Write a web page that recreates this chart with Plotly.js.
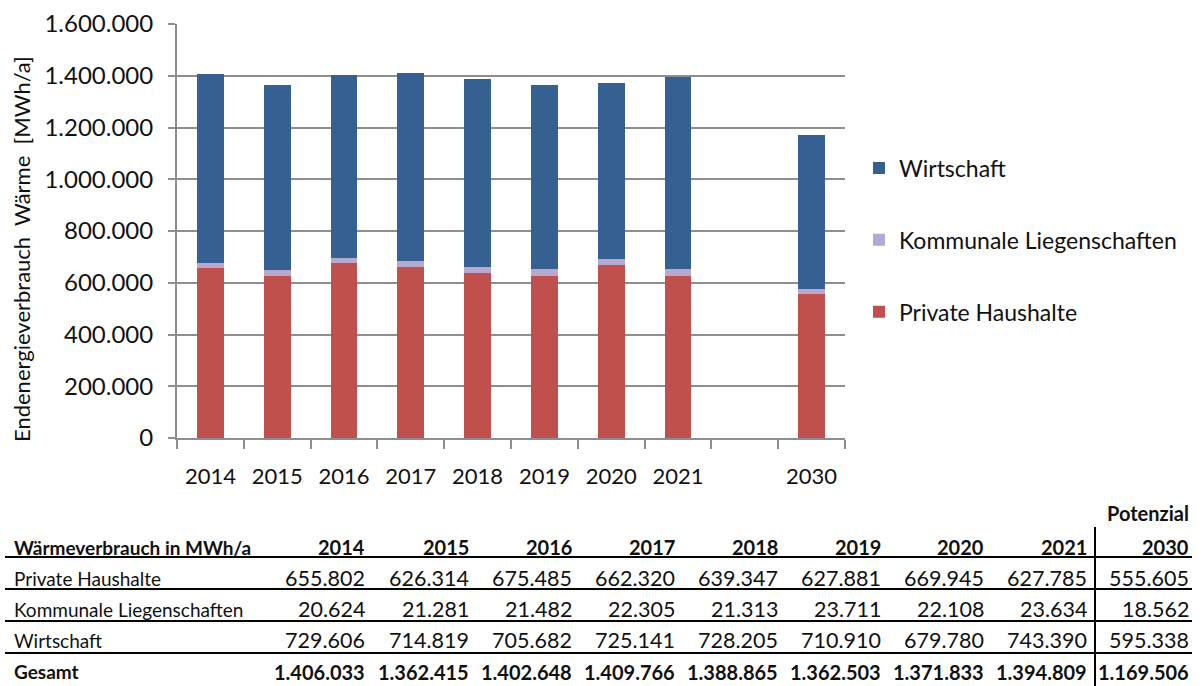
<!DOCTYPE html>
<html><head><meta charset="utf-8">
<script src="https://cdn.plot.ly/plotly-3.0.1.min.js"></script>
<style>html,body{margin:0;padding:0;background:#fff;} #chart{width:1202px;height:686px;}</style>
</head><body><div id="chart"></div>
<script>
// ---- data ----
const years = ['2014','2015','2016','2017','2018','2019','2020','2021','2030'];
const axisSlots = ['2014','2015','2016','2017','2018','2019','2020','2021',' ','2030'];
const privateHaushalte = [655802,626314,675485,662320,639347,627881,669945,627785,555605];
const kommunale = [20624,21281,21482,22305,21313,23711,22108,23634,18562];
const wirtschaft = [729606,714819,705682,725141,728205,710910,679780,743390,595338];
const gesamt = [1406033,1362415,1402648,1409766,1388865,1362503,1371833,1394809,1169506];
const seriesNames = ['Private Haushalte','Kommunale Liegenschaften','Wirtschaft'];
const tableTitle = 'Wärmeverbrauch in MWh/a';
const totalLabel = 'Gesamt';
const potenzialLabel = 'Potenzial';
const yTitle = 'Endenergieverbrauch\u00a0 Wärme\u00a0 [MWh/a]';

// ---- styles / geometry ----
const colors = ['#C0504D','#B7A8D0','#376092'];
const legendRanks = [3, 2, 1];
const W = 1202, H = 686, ML = 177, MR = 357, MT = 24, MB = 248;
const PW = W - ML - MR, PH = H - MT - MB;
const px = v => (v - ML) / PW;
const py = v => (H - MB - v) / PH;
const FONT = 'Lato, "Open Sans", sans-serif';
const INK = '#111';

const fmt = n => String(n).replace(/\B(?=(\d{3})+(?!\d))/g, '.');

const seriesValues = [privateHaushalte, kommunale, wirtschaft];
const traces = seriesValues.map((vals, i) => ({
  type: 'bar', x: years, y: vals, name: seriesNames[i], legendgroup: seriesNames[i],
  legendrank: legendRanks[i],
  marker: {color: colors[i], line: {width: 0}}, hoverinfo: 'skip'
}));

// table geometry
const colRight = [367,471,574,677,780,883,986,1089,1191];
const labelLeft = 12;
const rowCenters = {potenzial: 513, header: 547, rows: [578, 609, 640], total: 672};
const hLines = [557, 589, 621, 653];
const labelFont = 19, numFont = 21.5, boldFont = 20;

const annotations = [];
const ann = (x, y, text, anchor, size, extra) => annotations.push(Object.assign({
  xref: 'paper', yref: 'paper', x: px(x), y: py(y), text: text, showarrow: false,
  xanchor: anchor, yanchor: 'middle', font: {family: FONT, size: size, color: INK}
}, extra || {}));

// y-axis title
ann(21, 249, yTitle, 'center', 22, {textangle: -90});

// table
ann(colRight[8], rowCenters.potenzial, '<b>' + potenzialLabel + '</b>', 'right', boldFont);
ann(labelLeft, rowCenters.header, '<b>' + tableTitle + '</b>', 'left', labelFont);
years.forEach((yr, j) => ann(colRight[j], rowCenters.header, '<b>' + yr + '</b>', 'right', boldFont));
seriesValues.forEach((vals, i) => {
  ann(labelLeft, rowCenters.rows[i], seriesNames[i], 'left', labelFont);
  vals.forEach((v, j) => ann(colRight[j], rowCenters.rows[i], fmt(v), 'right', numFont));
});
ann(labelLeft, rowCenters.total, '<b>' + totalLabel + '</b>', 'left', labelFont);
gesamt.forEach((v, j) => ann(colRight[j], rowCenters.total, '<b>' + fmt(v) + '</b>', 'right', boldFont));

const shapes = hLines.map(y => ({
  type: 'line', xref: 'paper', yref: 'paper', x0: px(5), x1: px(1192), y0: py(y), y1: py(y),
  line: {color: '#000', width: 2}
}));
shapes.push({type: 'line', xref: 'paper', yref: 'paper', x0: px(1095), x1: px(1095), y0: py(527), y1: py(686),
  line: {color: '#000', width: 2}});

const axisGray = '#8e8e8e';
const layout = {
  width: W, height: H, margin: {l: ML, r: MR, t: MT, b: MB, pad: 0},
  paper_bgcolor: '#fff', plot_bgcolor: '#fff',
  barmode: 'stack', bargap: 0.6,
  separators: ',.',
  font: {family: FONT, color: INK},
  showlegend: true,
  legend: {x: px(859), xanchor: 'left', y: py(240), yanchor: 'middle',
    traceorder: 'grouped', tracegroupgap: 39, font: {family: FONT, size: 23, color: INK},
    bgcolor: 'rgba(0,0,0,0)', itemclick: false, itemdoubleclick: false},
  xaxis: {type: 'category', categoryorder: 'array', categoryarray: axisSlots,
    tickson: 'boundaries', ticks: 'outside', ticklen: 9, tickwidth: 2, tickcolor: axisGray,
    showline: true, linecolor: axisGray, linewidth: 2, showgrid: false, zeroline: false,
    tickfont: {family: FONT, size: 22, color: INK}, ticklabelstandoff: 18, fixedrange: true},
  yaxis: {range: [0, 1600000], tick0: 0, dtick: 200000, tickformat: ',d',
    showgrid: true, gridcolor: axisGray, gridwidth: 2, showline: true, linecolor: axisGray, linewidth: 2,
    ticks: 'outside', ticklen: 7, tickwidth: 2, tickcolor: axisGray, zeroline: false,
    tickfont: {family: FONT, size: 24, color: INK}, ticklabelstandoff: 10, fixedrange: true},
  annotations: annotations, shapes: shapes
};
Plotly.newPlot('chart', traces, layout, {displayModeBar: false, staticPlot: true});
</script></body></html>
